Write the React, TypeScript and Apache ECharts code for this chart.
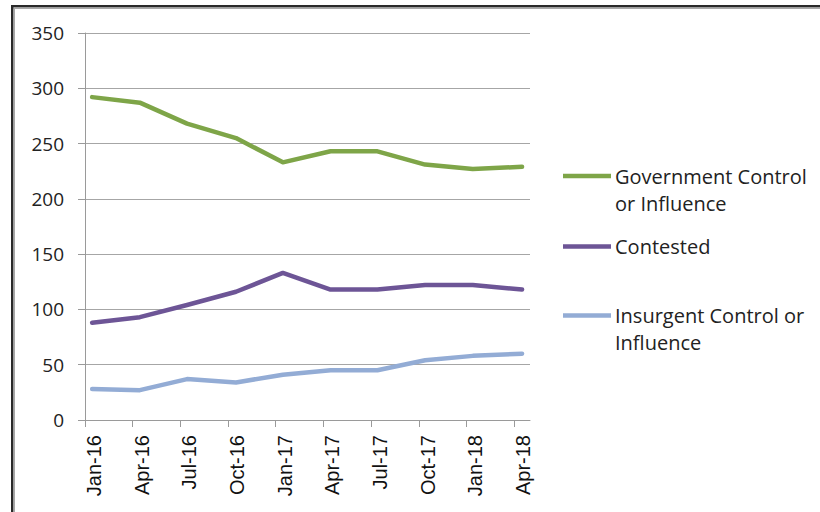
import React, { useEffect, useRef } from "react";
import * as echarts from "echarts";

// Tick labels (quarterly, value axis in months since Jan 2016)
const tickLabels = ["Jan-16", "Apr-16", "Jul-16", "Oct-16", "Jan-17", "Apr-17", "Jul-17", "Oct-17", "Jan-18", "Apr-18"];
const tickMonths = [0, 3, 6, 9, 12, 15, 18, 21, 24, 27];
// Observation dates, as months since 1 Jan 2016
const pointMonths = [0.45, 3.45, 6.42, 9.5, 12.45, 15.45, 18.4, 21.4, 24.4, 27.5];

const seriesNames = ["Government Control or Influence", "Contested", "Insurgent Control or Influence"];
const government = [292, 287, 268, 255, 233, 243, 243, 231, 227, 229];
const contested = [88, 93, 104, 116, 133, 118, 118, 122, 122, 118];
const insurgent = [28, 27, 37, 34, 41, 45, 45, 54, 58, 60];

const colors = ["#7EA548", "#6D5596", "#93ACD5"];
const legendLines = [["Government Control", "or Influence"], ["Contested"], ["Insurgent Control or", "Influence"]];

export default function App() {
  const ref = useRef<HTMLDivElement>(null);
  useEffect(() => {
    if (!ref.current) return;
    const chart = echarts.init(ref.current, null, { renderer: "svg" });
    const grid = { left: 85, top: 33, width: 445, height: 387 };
    const mk = (vals: number[]) => vals.map((v, i) => [pointMonths[i], v]);
    const allData = [government, contested, insurgent];

    const legendY = [176, 246.5, 315.5];
    const graphic: any[] = [
      { type: "rect", shape: { x: 11, y: 5, width: 809, height: 2.5 }, style: { fill: "#2a2a2a" }, silent: true },
      { type: "rect", shape: { x: 11, y: 7.5, width: 809, height: 1.5 }, style: { fill: "#a8a8a8" }, silent: true },
      { type: "rect", shape: { x: 11, y: 5, width: 2.5, height: 507 }, style: { fill: "#2a2a2a" }, silent: true },
      { type: "rect", shape: { x: 13.5, y: 7.5, width: 1.5, height: 505 }, style: { fill: "#a8a8a8" }, silent: true },
    ];
    legendLines.forEach((lines, i) => {
      graphic.push({
        type: "line",
        shape: { x1: 563, y1: legendY[i], x2: 611, y2: legendY[i] },
        style: { stroke: colors[i], lineWidth: 4.5 },
        silent: true,
      });
      lines.forEach((t, j) => {
        graphic.push({
          type: "text",
          x: 615,
          y: legendY[i] + j * 27,
          style: {
            text: t,
            fill: "#222",
            font: "20px 'Open Sans', sans-serif",
            textVerticalAlign: "middle",
            verticalAlign: "middle",
          },
          silent: true,
        });
      });
    });

    chart.setOption({
      animation: false,
      backgroundColor: "#ffffff",
      grid,
      xAxis: {
        type: "value",
        min: 0,
        max: 28,
        interval: 3,
        splitLine: { show: false },
        axisLine: { show: true, onZero: false, lineStyle: { color: "#9a9a9a", width: 1 } },
        axisTick: { show: true, length: 7, customValues: tickMonths, lineStyle: { color: "#9a9a9a" } },
        axisLabel: {
          customValues: tickMonths,
          rotate: 90,
          margin: 15,
          verticalAlign: "top",
          lineHeight: 18,
          color: "#111",
          fontFamily: "'Liberation Sans', Arial, sans-serif",
          fontSize: 20,
          formatter: (v: number) => {
            const idx = tickMonths.indexOf(Math.round(v));
            return idx >= 0 ? tickLabels[idx] : "";
          },
        },
      },
      yAxis: {
        type: "value",
        min: 0,
        max: 350,
        interval: 50,
        axisLine: { show: true, lineStyle: { color: "#9a9a9a", width: 1 } },
        axisTick: { show: true, length: 7, lineStyle: { color: "#9a9a9a" } },
        splitLine: { show: true, lineStyle: { color: "#a6a6a6", width: 1 } },
        axisLabel: {
          margin: 21,
          color: "#222",
          fontFamily: "'Open Sans', sans-serif",
          fontSize: 19,
        },
      },
      series: seriesNames.map((name, i) => ({
        name,
        type: "line",
        data: mk(allData[i]),
        symbol: "none",
        smooth: false,
        lineStyle: { color: colors[i], width: 4.5, cap: "round", join: "round" },
        itemStyle: { color: colors[i] },
      })),
      graphic,
    });
    return () => chart.dispose();
  }, []);
  return (
    <div
      ref={ref}
      style={{ position: "fixed", left: 0, top: 0, width: 820, height: 512, background: "#fff" }}
    />
  );
}
